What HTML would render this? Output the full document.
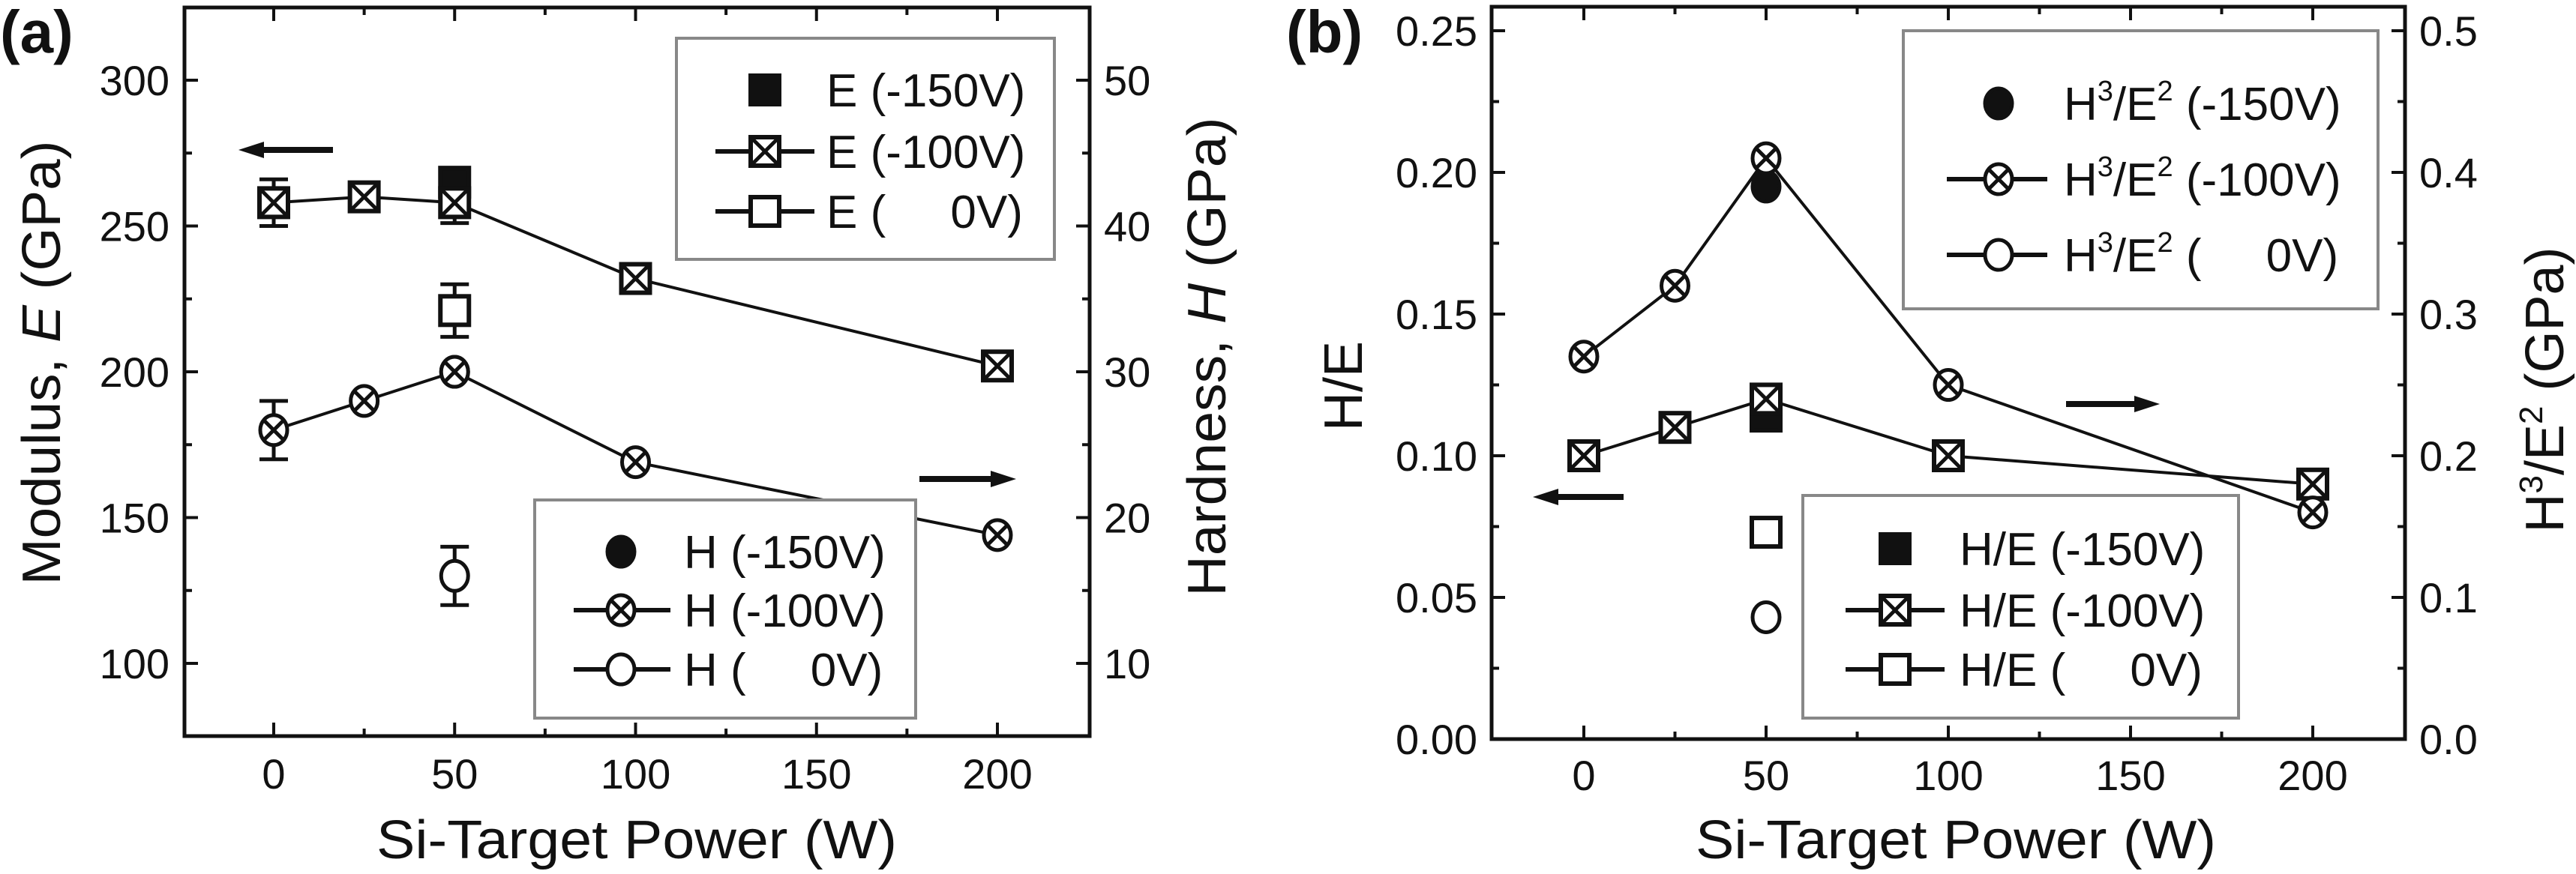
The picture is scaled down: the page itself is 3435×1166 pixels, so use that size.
<!DOCTYPE html>
<html><head><meta charset="utf-8"><style>
html,body{margin:0;padding:0;background:#fff}
svg{display:block}
text{font-family:"Liberation Sans",sans-serif;fill:#111}
</style></head><body>
<svg id="s" width="3435" height="1166" viewBox="0 0 3435 1166" xmlns="http://www.w3.org/2000/svg"></svg>
<script>
// ---- Panel (a) data ----
const aX = [0, 25, 50, 100, 200];
const aE100 = [258, 260, 258, 232, 202];
const aE100Err = [8, 0, 7, 0, 0];
const aH100 = [26, 28, 30, 23.8, 18.8];
const aH100Err = [2, 0, 0, 0, 0];
const aE150 = [[50, 265]];
const aE0 = [[50, 221, 9]];
const aH150 = [[50, 30]];
const aH0 = [[50, 16, 2]];
const aXTicks = [0, 50, 100, 150, 200];
const aYTicks = [100, 150, 200, 250, 300];
const aRTicks = [10, 20, 30, 40, 50];
// ---- Panel (b) data ----
const bX = [0, 25, 50, 100, 200];
const bHE100 = [0.10, 0.11, 0.12, 0.10, 0.09];
const bH3100 = [0.27, 0.32, 0.41, 0.25, 0.16];
const bHE150 = [[50, 0.114]];
const bHE0 = [[50, 0.073]];
const bH3150 = [[50, 0.39]];
const bH30 = [[50, 0.086]];
const bXTicks = [0, 50, 100, 150, 200];
const bYTicks = ["0.00", "0.05", "0.10", "0.15", "0.20", "0.25"];
const bRTicks = ["0.0", "0.1", "0.2", "0.3", "0.4", "0.5"];

const svg = document.getElementById('s');
const NS = 'http://www.w3.org/2000/svg';
function mk(tag, attrs, parent) {
  const e = document.createElementNS(NS, tag);
  for (const k in attrs) e.setAttribute(k, attrs[k]);
  (parent || svg).appendChild(e);
  return e;
}
function txt(x, y, s, size, anchor, name, extra) {
  const t = mk('text', Object.assign({x: x, y: y, 'font-size': size, 'text-anchor': anchor || 'middle'}, extra || {}));
  t.textContent = s;
  
  
  return t;
}
function line(x1, y1, x2, y2, w, name, col) {
  const l = mk('line', {x1: x1, y1: y1, x2: x2, y2: y2, stroke: col || '#111', 'stroke-width': w});
  
  
  return l;
}
const M = 19;
function marker(type, x, y, name) {
  const g = mk('g', {});
  
  
  if (type === 'xsq' || type === 'sq' || type === 'fsq') {
    mk('rect', {x: x - M, y: y - M, width: 2 * M, height: 2 * M, fill: type === 'fsq' ? '#111' : '#fff', stroke: '#111', 'stroke-width': 6}, g);
  }
  if (type === 'xci' || type === 'ci' || type === 'fci') {
    mk('ellipse', {cx: x, cy: y, rx: M - 1, ry: M + 1, fill: type === 'fci' ? '#111' : '#fff', stroke: '#111', 'stroke-width': 5}, g);
  }
  if (type === 'xsq' || type === 'xci') {
    const d = type === 'xsq' ? M : M * 0.72;
    mk('line', {x1: x - d, y1: y - d, x2: x + d, y2: y + d, stroke: '#111', 'stroke-width': 5}, g);
    mk('line', {x1: x - d, y1: y + d, x2: x + d, y2: y - d, stroke: '#111', 'stroke-width': 5}, g);
  }
  return g;
}
function errbar(x, y1, y2, name) {
  const g = mk('g', {stroke: '#111', 'stroke-width': 5});
  
  
  mk('line', {x1: x, y1: y1, x2: x, y2: y2}, g);
  mk('line', {x1: x - 19, y1: y1, x2: x + 19, y2: y1}, g);
  mk('line', {x1: x - 19, y1: y2, x2: x + 19, y2: y2}, g);
}
function arrow(x1, x2, y, name) {
  const g = mk('g', {});
  
  
  const dir = x2 > x1 ? 1 : -1;
  mk('line', {x1: x1, y1: y, x2: x2 - dir * 28, y2: y, stroke: '#111', 'stroke-width': 8}, g);
  mk('polygon', {points: `${x2},${y} ${x2 - dir * 34},${y - 11} ${x2 - dir * 34},${y + 11}`, fill: '#111'}, g);
}
function polyline(xs, ys, name) {
  const p = mk('polyline', {points: xs.map((x, i) => x + ',' + ys[i]).join(' '), fill: 'none', stroke: '#111', 'stroke-width': 4});
  
  
}
function legendBox(x, y, w, h, name) {
  const r = mk('rect', {x: x, y: y, width: w, height: h, fill: '#fff', stroke: '#888', 'stroke-width': 4});
  
  
}
function legendRow(mx, y, type, withLine, label, lx1, lx2, tx, name, sup) {
  if (withLine) line(lx1, y, lx2, y, 6, name + '-line');
  marker(type, mx, y, name + '-marker');
  const t = txt(tx, y + 22, '', 62, 'start', name + '-label', {'xml:space': 'preserve'});
  t.style.whiteSpace = 'pre';
  if (sup) {
    const parts = [['H'], ['3', 1], ['/E'], ['2', 1], [label]];
    parts.forEach(p => {
      const ts = document.createElementNS(NS, 'tspan');
      ts.textContent = p[0];
      if (p[1]) { ts.setAttribute('font-size', 38); ts.setAttribute('dy', -26); }
      else if (t.childNodes.length) { ts.setAttribute('dy', 26); }
      t.appendChild(ts);
    });
  } else t.textContent = label;
}

// ================= Panel (a) =================
const aL = 246, aR = 1453, aT = 10, aB = 982;
const axA = v => 365 + (v - 0) * (1330 - 365) / 200;
const ayA = v => 885 + (v - 100) * (107 - 885) / 200;
const ayAR = h => ayA(5 * h + 50);
(function () {
  const f = mk('rect', {x: aL, y: aT, width: aR - aL, height: aB - aT, fill: 'none', stroke: '#111', 'stroke-width': 5});
   
  for (let v = 0; v <= 200; v += 25) {
    const big = v % 50 === 0;
    line(axA(v), aB, axA(v), aB - (big ? 18 : 10), 4, 'x-tick-a');
    line(axA(v), aT, axA(v), aT + (big ? 18 : 10), 4, 'x-tick-a-top');
  }
  for (let v = 75; v <= 325; v += 25) {
    const big = v % 50 === 0;
    line(aL, ayA(v), aL + (big ? 18 : 10), ayA(v), 4, 'y-tick-a');
  }
  for (let h = 5; h <= 55; h += 5) {
    const big = h % 10 === 0;
    line(aR, ayAR(h), aR - (big ? 18 : 10), ayAR(h), 4, 'y2-tick-a');
  }
  aXTicks.forEach(v => txt(axA(v), 1052, String(v), 56, 'middle', 'x-tick-label-a'));
  aYTicks.forEach(v => txt(226, ayA(v) + 20, String(v), 56, 'end', 'y-tick-label-a'));
  aRTicks.forEach(v => txt(1472, ayAR(v) + 20, String(v), 56, 'start', 'y2-tick-label-a'));
  txt(849, 1145, 'Si-Target Power (W)', 72, 'middle', 'x-axis-title-a', {textLength: 694, lengthAdjust: 'spacingAndGlyphs'});
  const yt = txt(0, 0, '', 72, 'middle', 'y-axis-title-a', {transform: 'translate(80,484) rotate(-90)', textLength: 593, lengthAdjust: 'spacingAndGlyphs'});
  yt.innerHTML = 'Modulus, <tspan font-style="italic">E</tspan> (GPa)';
  const yt2 = txt(0, 0, '', 72, 'middle', 'y2-axis-title-a', {transform: 'translate(1634,476) rotate(-90)', textLength: 639, lengthAdjust: 'spacingAndGlyphs'});
  yt2.innerHTML = 'Hardness, <tspan font-style="italic">H</tspan> (GPa)';
  txt(0, 70, '(a)', 80, 'start', 'panel-label-a', {'font-weight': 'bold'});

  polyline(aX.map(axA), aE100.map(ayA), 'series-e-100v-line');
  polyline(aX.map(axA), aH100.map(ayAR), 'series-h-100v-line');
  aX.forEach((x, i) => { if (aE100Err[i]) errbar(axA(x), ayA(aE100[i] + aE100Err[i]), ayA(aE100[i] - aE100Err[i]), 'error-bar-e'); });
  aX.forEach((x, i) => { if (aH100Err[i]) errbar(axA(x), ayAR(aH100[i] + aH100Err[i]), ayAR(aH100[i] - aH100Err[i]), 'error-bar-h'); });
  aE0.forEach(p => errbar(axA(p[0]), ayA(p[1] + p[2]), ayA(p[1] - p[2]), 'error-bar-e-0v'));
  aH0.forEach(p => errbar(axA(p[0]), ayAR(p[1] + p[2]), ayAR(p[1] - p[2]), 'error-bar-h-0v'));
  aE150.forEach(p => marker('fsq', axA(p[0]), ayA(p[1]), 'point-e-150v'));
  aX.forEach((x, i) => marker('xsq', axA(x), ayA(aE100[i]), 'point-e-100v'));
  aE0.forEach(p => marker('sq', axA(p[0]), ayA(p[1]), 'point-e-0v'));
  aH150.forEach(p => marker('fci', axA(p[0]), ayAR(p[1]), 'point-h-150v'));
  aX.forEach((x, i) => marker('xci', axA(x), ayAR(aH100[i]), 'point-h-100v'));
  aH0.forEach(p => marker('ci', axA(p[0]), ayAR(p[1]), 'point-h-0v'));
  arrow(444, 318, 200, 'arrow-left-axis-a');
  arrow(1226, 1355, 639, 'arrow-right-axis-a');

  legendBox(902, 51, 504, 295, 'legend-e');
  legendRow(1020, 120, 'fsq', false, 'E (-150V)', 954, 1086, 1102, 'legend-e-150v');
  legendRow(1020, 202, 'xsq', true, 'E (-100V)', 954, 1086, 1102, 'legend-e-100v');
  legendRow(1020, 282, 'sq', true, 'E (     0V)', 954, 1086, 1102, 'legend-e-0v');
  legendBox(713, 667, 508, 291, 'legend-h');
  legendRow(828, 736, 'fci', false, 'H (-150V)', 765, 894, 912, 'legend-h-150v');
  legendRow(828, 814, 'xci', true, 'H (-100V)', 765, 894, 912, 'legend-h-100v');
  legendRow(828, 893, 'ci', true, 'H (     0V)', 765, 894, 912, 'legend-h-0v');
})();

// ================= Panel (b) =================
const bL = 1989, bR = 3207, bT = 9, bB = 986;
const axB = v => 2112 + v * (3084 - 2112) / 200;
const ayB = v => 986 + v * (41 - 986) / 0.25;
const ayBR = v => ayB(v / 2);
(function () {
  const f = mk('rect', {x: bL, y: bT, width: bR - bL, height: bB - bT, fill: 'none', stroke: '#111', 'stroke-width': 5});
   
  for (let v = 0; v <= 200; v += 25) {
    const big = v % 50 === 0;
    line(axB(v), bB, axB(v), bB - (big ? 18 : 10), 4, 'x-tick-b');
    line(axB(v), bT, axB(v), bT + (big ? 18 : 10), 4, 'x-tick-b-top');
  }
  for (let i = 0; i <= 10; i++) {
    const v = i * 0.025, big = i % 2 === 0;
    line(bL, ayB(v), bL + (big ? 18 : 10), ayB(v), 4, 'y-tick-b');
    line(bR, ayB(v), bR - (big ? 18 : 10), ayB(v), 4, 'y2-tick-b');
  }
  bXTicks.forEach(v => txt(axB(v), 1054, String(v), 56, 'middle', 'x-tick-label-b'));
  bYTicks.forEach(v => txt(1970, ayB(parseFloat(v)) + 20, v, 56, 'end', 'y-tick-label-b'));
  bRTicks.forEach(v => txt(3226, ayBR(parseFloat(v)) + 20, v, 56, 'start', 'y2-tick-label-b'));
  txt(2608, 1145, 'Si-Target Power (W)', 72, 'middle', 'x-axis-title-b', {textLength: 694, lengthAdjust: 'spacingAndGlyphs'});
  txt(0, 0, 'H/E', 72, 'middle', 'y-axis-title-b', {transform: 'translate(1816,515) rotate(-90)'});
  const yt2 = txt(0, 0, '', 72, 'middle', 'y2-axis-title-b', {transform: 'translate(3418,520) rotate(-90)'});
  yt2.innerHTML = 'H<tspan font-size="44" dy="-28">3</tspan><tspan dy="28">/E</tspan><tspan font-size="44" dy="-28">2</tspan><tspan dy="28"> (GPa)</tspan>';
  txt(1715, 70, '(b)', 80, 'start', 'panel-label-b', {'font-weight': 'bold'});

  polyline(bX.map(axB), bHE100.map(ayB), 'series-he-100v-line');
  polyline(bX.map(axB), bH3100.map(ayBR), 'series-h3e2-100v-line');
  bHE150.forEach(p => marker('fsq', axB(p[0]), ayB(p[1]), 'point-he-150v'));
  bX.forEach((x, i) => marker('xsq', axB(x), ayB(bHE100[i]), 'point-he-100v'));
  bHE0.forEach(p => marker('sq', axB(p[0]), ayB(p[1]), 'point-he-0v'));
  bH3150.forEach(p => marker('fci', axB(p[0]), ayBR(p[1]), 'point-h3e2-150v'));
  bX.forEach((x, i) => marker('xci', axB(x), ayBR(bH3100[i]), 'point-h3e2-100v'));
  bH30.forEach(p => marker('ci', axB(p[0]), ayBR(p[1]), 'point-h3e2-0v'));
  arrow(2165, 2044, 663, 'arrow-left-axis-b');
  arrow(2755, 2880, 539, 'arrow-right-axis-b');

  legendBox(2538, 41, 633, 371, 'legend-h3e2');
  legendRow(2665, 138, 'fci', false, ' (-150V)', 2596, 2730, 2752, 'legend-h3e2-150v', true);
  legendRow(2665, 239, 'xci', true, ' (-100V)', 2596, 2730, 2752, 'legend-h3e2-100v', true);
  legendRow(2665, 340, 'ci', true, ' (     0V)', 2596, 2730, 2752, 'legend-h3e2-0v', true);
  legendBox(2404, 661, 581, 297, 'legend-he');
  legendRow(2527, 732, 'fsq', false, 'H/E (-150V)', 2461, 2593, 2613, 'legend-he-150v');
  legendRow(2527, 814, 'xsq', true, 'H/E (-100V)', 2461, 2593, 2613, 'legend-he-100v');
  legendRow(2527, 893, 'sq', true, 'H/E (     0V)', 2461, 2593, 2613, 'legend-he-0v');
})();
</script>
</body></html>
